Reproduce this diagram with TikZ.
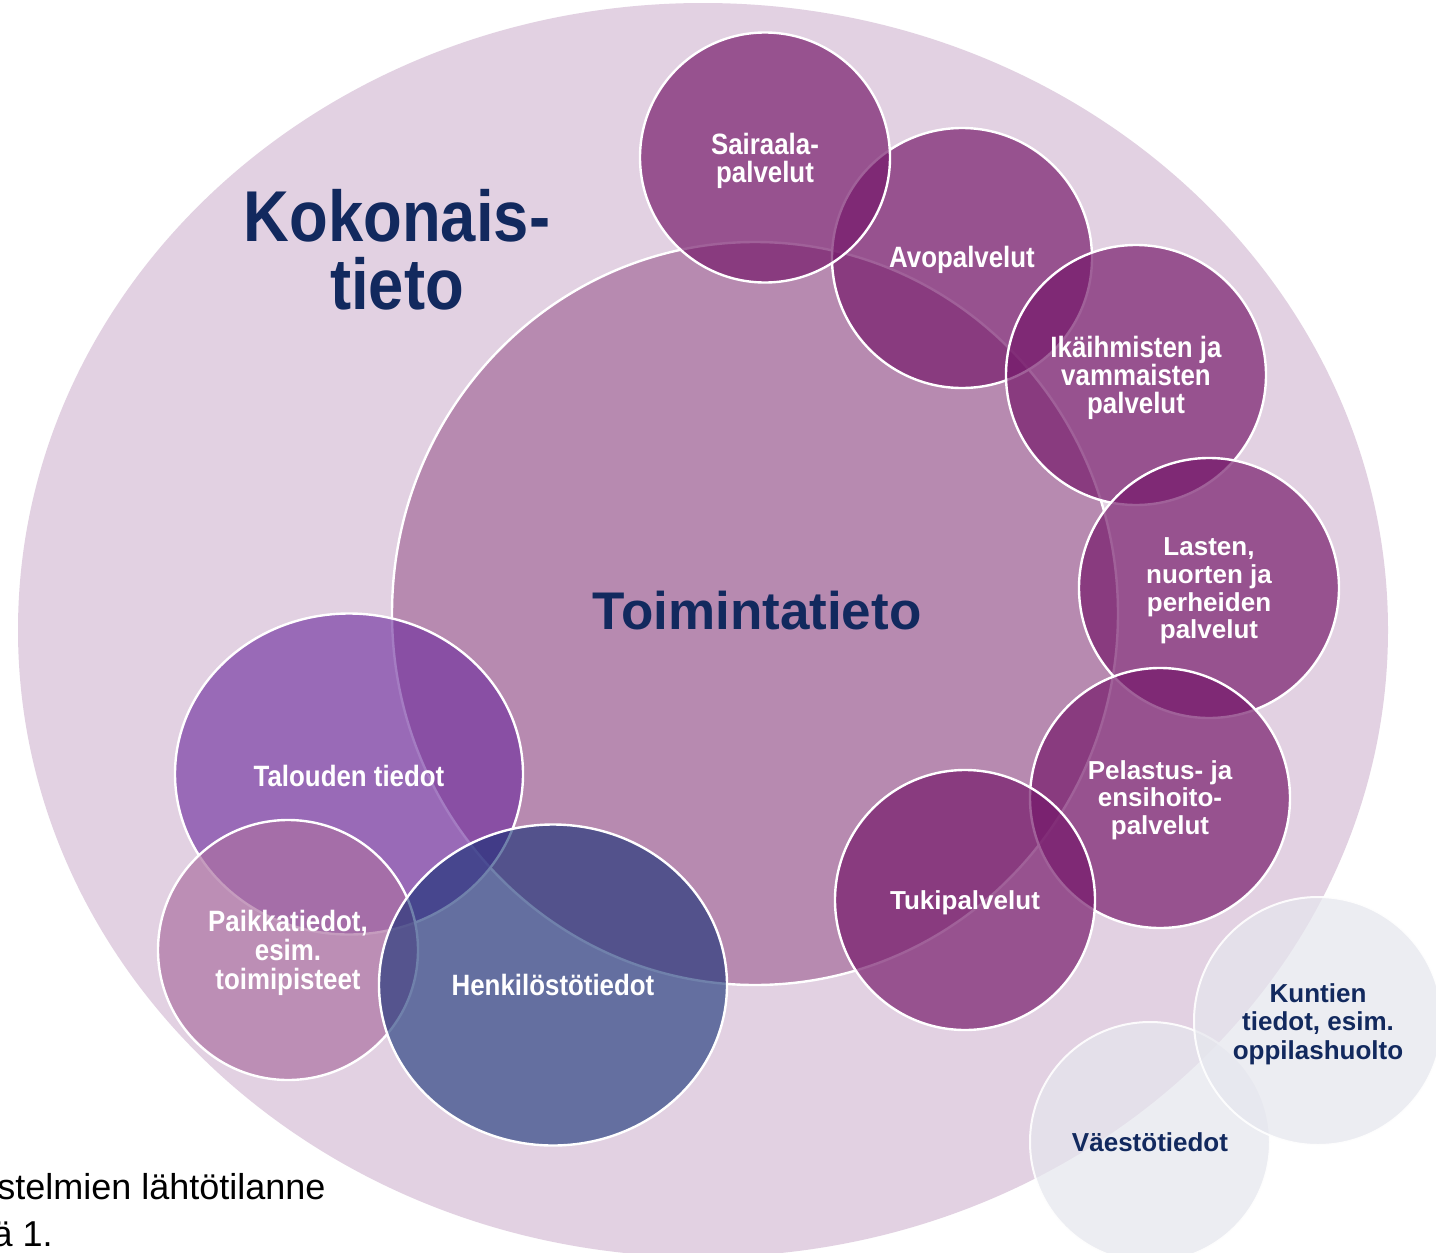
\documentclass[tikz,border=0pt]{standalone}
\usepackage{fontspec}
\setmainfont{Liberation Sans}
\newfontfamily\narrowfont{Liberation Sans}[FakeStretch=0.88]
\usetikzlibrary{shapes.geometric}
\definecolor{outerc}{HTML}{E2D1E2}
\definecolor{mainc}{HTML}{B78AB0}
\definecolor{svcc}{RGB}{116,23,105}
\definecolor{talc}{RGB}{109,44,157}
\definecolor{paic}{RGB}{171,112,162}
\definecolor{henc}{RGB}{17,46,116}
\definecolor{extc}{RGB}{230,231,238}
\definecolor{navy}{HTML}{12295E}
\tikzset{
  svc/.style={circle, minimum size=130pt, inner sep=0pt, fill=svcc, fill opacity=0.68,
    draw=white, draw opacity=1, line width=1.2pt},
  bigov/.style={ellipse, minimum width=174pt, minimum height=160.5pt, inner sep=0pt,
    fill opacity=0.62, draw=white, draw opacity=1, line width=1.2pt},
  extn/.style={circle, inner sep=0pt, fill=extc, fill opacity=0.72,
    draw=white, draw opacity=0.9, line width=1pt},
  lbl/.style={text=white, align=center, inner sep=0pt,
    font=\bfseries\fontsize{13pt}{13.8pt}\selectfont},
  lbln/.style={lbl, font=\narrowfont\bfseries\fontsize{14.7pt}{14pt}\selectfont},
  extlbl/.style={text=navy, align=center, inner sep=0pt,
    font=\bfseries\fontsize{13pt}{14.3pt}\selectfont},
  captxt/.style={font=\fontsize{18pt}{23.5pt}\selectfont, text=black, inner sep=0pt}
}
\begin{document}
\begin{tikzpicture}[x=0.5pt,y=-0.5pt]
\useasboundingbox (0,0) rectangle (1436,1253);
\clip (0,0) rectangle (1436,1253);
\fill[white] (0,0) rectangle (1436,1253);
% outer area
\node[ellipse, fill=outerc, minimum width=685pt, minimum height=627pt, inner sep=0pt] (outer) at (703,630) {};
% bottom-left caption fragments
\node[captxt, anchor=base east] (cap1) at (326,1199) {stelmien lähtötilanne};
\node[captxt, anchor=base east] (cap2) at (53,1246) {ä 1.};
% title
\node[text=navy, align=center, inner sep=0pt, font=\narrowfont\bfseries\fontsize{36pt}{34pt}\selectfont] (koko) at (397,250) {Kokonais-\\tieto};
% main circle
\node[ellipse, minimum width=363pt, minimum height=371.5pt, inner sep=0pt, fill=mainc, draw=white, line width=1.2pt] (toim) at (755,613.5) {};
% service circles
\node[svc] (avo) at (962,258) {};
\node[svc, minimum size=125pt] (sair) at (765,157.5) {};
\node[svc] (ika) at (1136,375) {};
\node[svc] (las) at (1209,588) {};
\node[svc] (pel) at (1160,798) {};
\node[svc] (tuki) at (965,900) {};
% left cluster
\node[bigov, fill=talc] (tal) at (349,774) {};
\node[svc, fill=paic, fill opacity=0.69] (paik) at (288,950) {};
\node[bigov, fill=henc, fill opacity=0.6] (henk) at (553,985) {};
% external circles
\node[extn, minimum size=120pt] (vaes) at (1150,1142) {};
\node[extn, minimum size=124pt] (kunt) at (1318,1021) {};
% labels
\node[text=navy, inner sep=0pt, font=\bfseries\fontsize{26.5pt}{28pt}\selectfont] (toimt) at (757,611) {Toimintatieto};
\node[lbln] (avot) at ([yshift=-1pt]avo.center) {Avopalvelut};
\node[lbln] (sairt) at ([yshift=-1.5pt]sair.center) {Sairaala-\\palvelut};
\node[lbln] (ikat) at ([yshift=-1.5pt]ika.center) {Ikäihmisten ja\\vammaisten\\palvelut};
\node[lbl] (last) at ([yshift=-1.5pt]las.center) {Lasten,\\nuorten ja\\perheiden\\palvelut};
\node[lbl] (pelt) at ([yshift=-1pt]pel.center) {Pelastus- ja\\ensihoito-\\palvelut};
\node[lbl] (tukit) at ([yshift=-1.5pt]tuki.center) {Tukipalvelut};
\node[lbln] (talt) at ([yshift=-1pt]tal.center) {Talouden tiedot};
\node[lbln, font=\narrowfont\bfseries\fontsize{14.7pt}{14.4pt}\selectfont] (paikt) at ([yshift=-1.5pt]paik.center) {Paikkatiedot,\\esim.\\toimipisteet};
\node[lbln] (henkt) at (henk.center) {Henkilöstötiedot};
\node[extlbl] (kuntt) at ([yshift=-1.5pt]kunt.center) {Kuntien\\tiedot, esim.\\oppilashuolto};
\node[extlbl] (vaest) at (vaes.center) {Väestötiedot};
\end{tikzpicture}
\end{document}
